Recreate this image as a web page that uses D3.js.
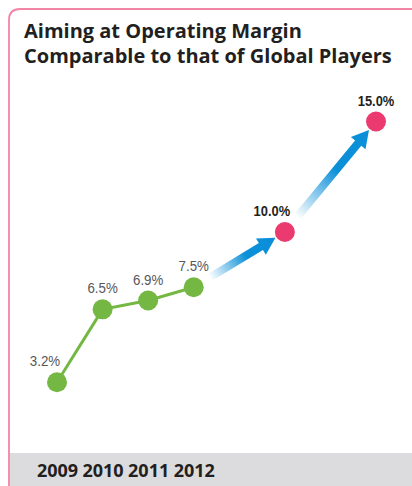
<!DOCTYPE html>
<html><head><meta charset="utf-8">
<script src="https://cdn.jsdelivr.net/npm/d3@7"></script>
<style>
html,body{margin:0;padding:0;background:#fff;}
svg{display:block;}
</style></head>
<body>
<svg id="chart" width="412" height="486"></svg>
<script>
const titleLines = ["Aiming at Operating Margin", "Comparable to that of Global Players"];
const years = ["2009", "2010", "2011", "2012"];
const actualValues = [3.2, 6.5, 6.9, 7.5];
const actualLabels = ["3.2%", "6.5%", "6.9%", "7.5%"];
const targetValues = [10.0, 15.0];
const targetLabels = ["10.0%", "15.0%"];
const targetSlots = [5, 7];

const svg = d3.select("#chart");
const W = 412, H = 486;
const labelFont = "'Liberation Sans',Arial,sans-serif";

const x = d3.scaleLinear().domain([0, 7]).range([57, 376]);
const y = d3.scaleLinear().domain([0, 15]).range([453, 121.5]);

// frame
svg.append("rect").attr("x", 10).attr("y", 453).attr("width", W - 10).attr("height", H - 453).attr("fill", "#dcdcde");
svg.append("path")
  .attr("d", `M9,${H+5} L9,20 Q9,9 20,9 L${W+5},9`)
  .attr("fill", "none").attr("stroke", "#f284a5").attr("stroke-width", 1.8);

// title
svg.append("g").selectAll("text").data(titleLines).join("text")
  .attr("x", 24).attr("y", (d, i) => 38 + i * 25)
  .attr("font-family", "'Open Sans',sans-serif").attr("font-weight", 700)
  .attr("font-size", 20).attr("fill", "#231f20").text(d => d);

// year axis labels
const xAxis = d3.axisBottom(x).tickValues(d3.range(years.length)).tickFormat(i => years[i]).tickSize(0).tickPadding(0);
const ax = svg.append("g").attr("transform", "translate(0,461)").call(xAxis);
ax.select(".domain").remove();
ax.selectAll("text").attr("font-family", "'Open Sans',sans-serif").attr("font-weight", 700)
  .attr("font-size", 18).attr("fill", "#231f20").attr("dy", "0.9em");

const defs = svg.append("defs");

// arrows
const arrowPairs = [
  { from: [x(years.length - 1), y(actualValues[actualValues.length - 1])], to: [x(targetSlots[0]), y(targetValues[0])] },
  { from: [x(targetSlots[0]), y(targetValues[0])], to: [x(targetSlots[1]), y(targetValues[1])] }
];
arrowPairs.forEach((p, i) => {
  const dx = p.to[0] - p.from[0], dy = p.to[1] - p.from[1];
  const L = Math.hypot(dx, dy), ux = dx / L, uy = dy / L;
  const s = [p.from[0] + ux * 19, p.from[1] + uy * 19];
  const e = [p.to[0] - ux * 11, p.to[1] - uy * 11];
  const gid = "ag" + i;
  const g = defs.append("linearGradient").attr("id", gid).attr("gradientUnits", "userSpaceOnUse")
    .attr("x1", s[0]).attr("y1", s[1]).attr("x2", e[0]).attr("y2", e[1]);
  g.append("stop").attr("offset", 0).attr("stop-color", "#0a8fd8").attr("stop-opacity", 0);
  g.append("stop").attr("offset", 0.55).attr("stop-color", "#0a8fd8").attr("stop-opacity", 1);
  g.append("stop").attr("offset", 1).attr("stop-color", "#0a8fd8").attr("stop-opacity", 1);
  const len = Math.hypot(e[0] - s[0], e[1] - s[1]);
  const hl = 17, hw = 9.5, sw = 4;
  const px = -uy, py = ux;
  const pt = (a, b) => [s[0] + ux * a + px * b, s[1] + uy * a + py * b];
  const pts = [pt(0, -sw), pt(len - hl, -sw), pt(len - hl, -hw), pt(len, 0), pt(len - hl, hw), pt(len - hl, sw), pt(0, sw)];
  svg.append("path").attr("d", d3.line()(pts) + "Z").attr("fill", `url(#${gid})`);
});

// actual line + points
svg.append("path").datum(actualValues)
  .attr("d", d3.line().x((d, i) => x(i)).y(d => y(d)))
  .attr("fill", "none").attr("stroke", "#74b843").attr("stroke-width", 3);
svg.append("g").selectAll("circle").data(actualValues).join("circle")
  .attr("cx", (d, i) => x(i)).attr("cy", d => y(d)).attr("r", 10).attr("fill", "#74b843");
svg.append("g").selectAll("text").data(actualValues).join("text")
  .attr("transform", (d, i) => `translate(${x(i) - (i === 0 ? 12 : 0)},${y(d) - 16}) scale(0.86,1)`)
  .attr("text-anchor", "middle").attr("font-family", labelFont).attr("font-size", 15.5)
  .attr("fill", "#58585a").text((d, i) => actualLabels[i]);

// target points
svg.append("g").selectAll("circle").data(targetValues).join("circle")
  .attr("cx", (d, i) => x(targetSlots[i])).attr("cy", d => y(d)).attr("r", 10).attr("fill", "#ea3a70");
svg.append("g").selectAll("text").data(targetValues).join("text")
  .attr("transform", (d, i) => `translate(${x(targetSlots[i]) - (i === 0 ? 13 : 0)},${y(d) - 16}) scale(0.86,1)`)
  .attr("text-anchor", "middle").attr("font-family", labelFont).attr("font-weight", 700).attr("font-size", 15)
  .attr("fill", "#231f20").text((d, i) => targetLabels[i]);
</script>
</body></html>
